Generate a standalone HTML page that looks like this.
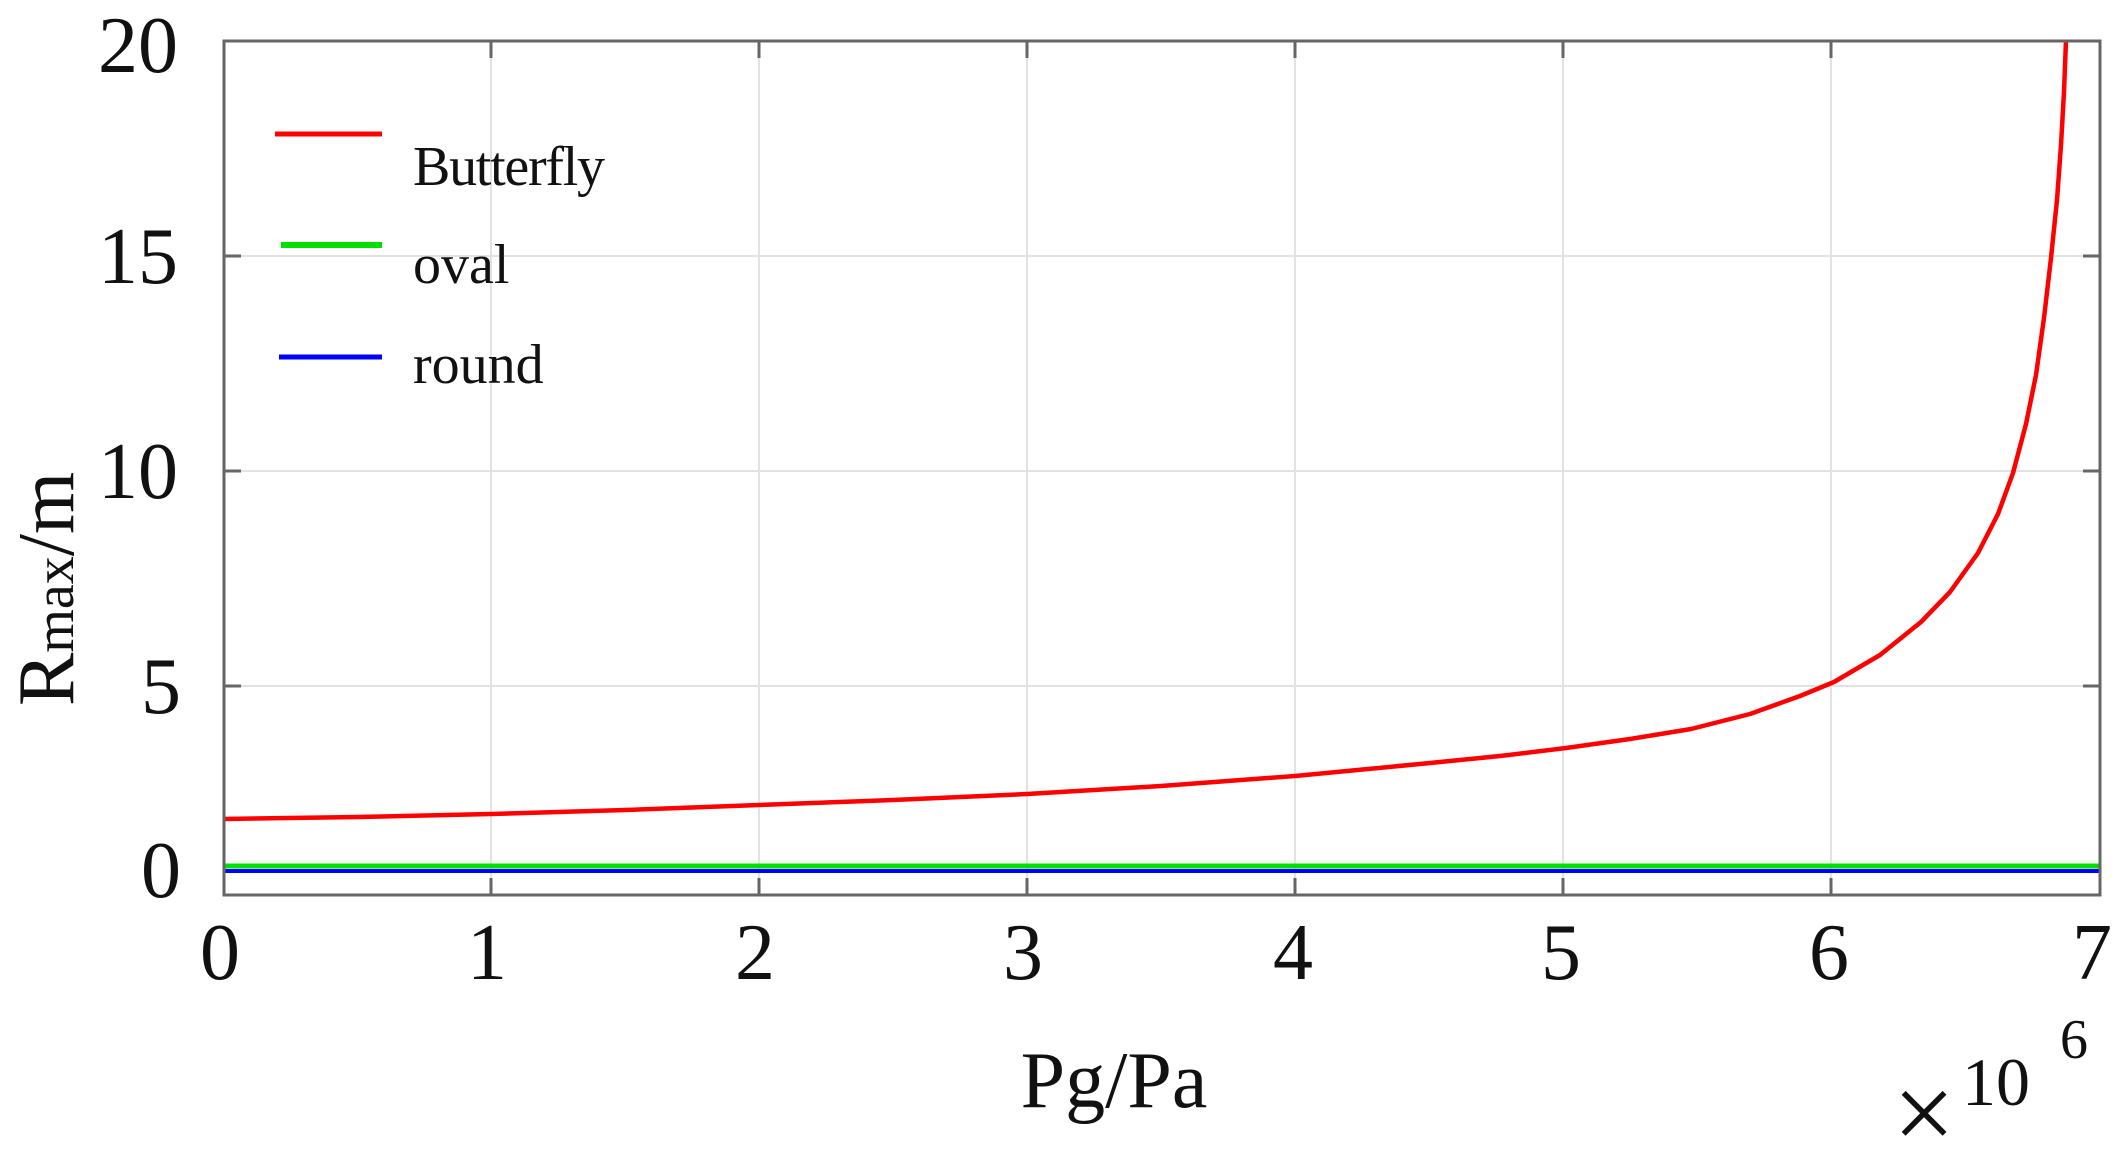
<!DOCTYPE html>
<html><head><meta charset="utf-8"><style>
html,body{margin:0;padding:0;background:#fff;}
svg{display:block;}
text{font-family:"Liberation Serif",serif;fill:#111;}
</style></head><body>
<svg width="2117" height="1161" viewBox="0 0 2117 1161" xmlns="http://www.w3.org/2000/svg">
<g stroke="#e2e2e2" stroke-width="2">
<line x1="491" y1="41" x2="491" y2="895"/><line x1="759" y1="41" x2="759" y2="895"/>
<line x1="1027" y1="41" x2="1027" y2="895"/><line x1="1295" y1="41" x2="1295" y2="895"/>
<line x1="1563" y1="41" x2="1563" y2="895"/><line x1="1831" y1="41" x2="1831" y2="895"/>
<line x1="224" y1="256" x2="2100" y2="256"/><line x1="224" y1="471" x2="2100" y2="471"/>
<line x1="224" y1="686" x2="2100" y2="686"/>
</g>
<g stroke="#666" stroke-width="3">
<line x1="491" y1="41" x2="491" y2="58"/><line x1="759" y1="41" x2="759" y2="58"/><line x1="1027" y1="41" x2="1027" y2="58"/><line x1="1295" y1="41" x2="1295" y2="58"/><line x1="1563" y1="41" x2="1563" y2="58"/><line x1="1831" y1="41" x2="1831" y2="58"/>
<line x1="491" y1="895" x2="491" y2="878"/><line x1="759" y1="895" x2="759" y2="878"/><line x1="1027" y1="895" x2="1027" y2="878"/><line x1="1295" y1="895" x2="1295" y2="878"/><line x1="1563" y1="895" x2="1563" y2="878"/><line x1="1831" y1="895" x2="1831" y2="878"/>
<line x1="224" y1="256" x2="241" y2="256"/><line x1="224" y1="471" x2="241" y2="471"/><line x1="224" y1="686" x2="241" y2="686"/>
<line x1="2100" y1="256" x2="2083" y2="256"/><line x1="2100" y1="471" x2="2083" y2="471"/><line x1="2100" y1="686" x2="2083" y2="686"/>
</g>
<polyline points="224,819 358,817 491,814 625,810 759,805 893,800 1027,794 1161,786 1295,776 1430,763 1500,756 1566,748 1630,739 1691,729 1750,714 1800,696 1834,682 1880,655 1921,622 1950,592 1978,553 1998,514 2013,473 2026,424 2036,375 2044,318 2051,258 2057,200 2061,145 2064,92 2066,40" fill="none" stroke="#ff0000" stroke-width="4.5" stroke-linejoin="round"/>
<line x1="224" y1="866" x2="2100" y2="866" stroke="#00e000" stroke-width="5"/>
<line x1="224" y1="871" x2="2100" y2="871" stroke="#0000ff" stroke-width="4"/>
<rect x="224" y="41" width="1876" height="854" fill="none" stroke="#666" stroke-width="3"/>
<line x1="275" y1="134" x2="382" y2="134" stroke="#ff0000" stroke-width="5"/>
<line x1="281" y1="245" x2="382" y2="245" stroke="#00e000" stroke-width="6"/>
<line x1="279" y1="357" x2="382" y2="357" stroke="#0000ff" stroke-width="5"/>
<g font-size="56"><text x="413" y="185" textLength="192">Butterfly</text><text x="413" y="283">oval</text><text x="413" y="383">round</text></g>
<g font-size="80" text-anchor="end">
<text x="178" y="72">20</text><text x="178" y="283">15</text><text x="178" y="498">10</text><text x="181" y="713">5</text><text x="181" y="897">0</text>
</g>
<g font-size="80" text-anchor="middle">
<text x="220" y="979">0</text><text x="487" y="979">1</text><text x="755" y="979">2</text><text x="1023" y="979">3</text><text x="1293" y="979">4</text><text x="1561" y="979">5</text><text x="1829" y="979">6</text><text x="2092" y="979">7</text>
</g>
<text x="1114" y="1107" font-size="80" text-anchor="middle">Pg/Pa</text>
<text x="1924" y="1150" font-size="110" text-anchor="middle">×</text>
<text x="1962" y="1105" font-size="68">10</text>
<text x="2060" y="1058" font-size="56">6</text>
<text transform="translate(73,706) rotate(-90)" font-size="80">R<tspan font-size="56">max</tspan>/m</text>
</svg>
</body></html>
